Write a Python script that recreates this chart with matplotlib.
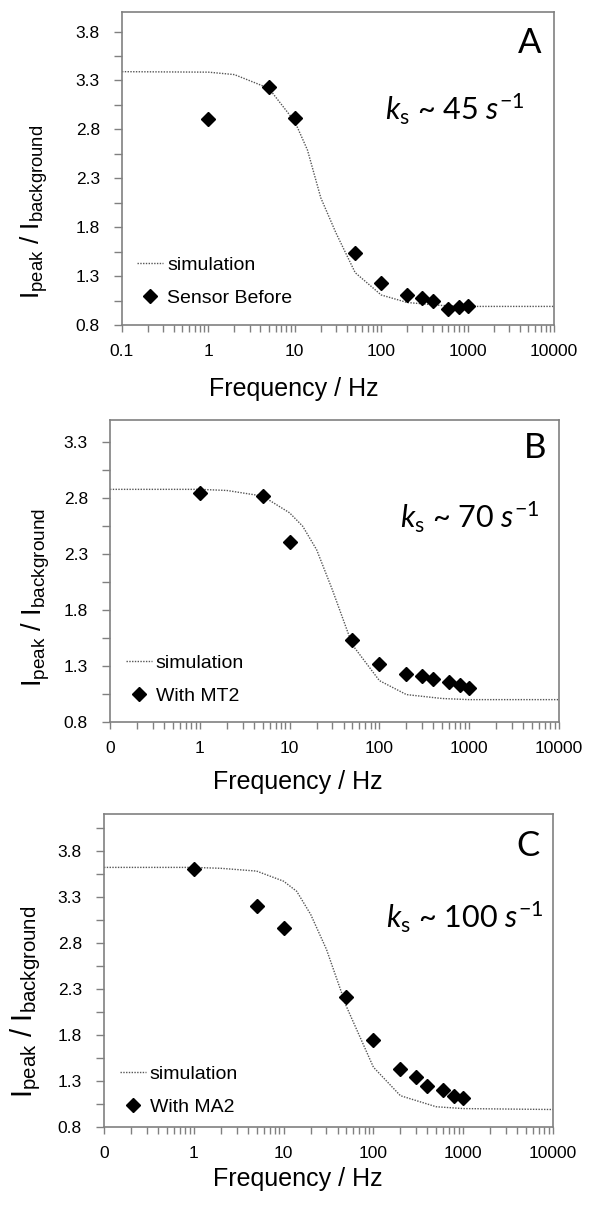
import matplotlib
matplotlib.use("Agg")
import matplotlib.pyplot as plt
from matplotlib.ticker import FixedLocator, LogLocator, NullFormatter
import numpy as np

plt.rcParams['mathtext.fontset'] = 'custom'
plt.rcParams['mathtext.rm'] = 'Lato'
plt.rcParams['mathtext.it'] = 'Lato:italic'
plt.rcParams['mathtext.sf'] = 'Liberation Sans'

# ---------------- data ----------------
freq_data = [1, 5, 10, 50, 100, 200, 300, 400, 600, 800, 1000]

ratio_A = [2.91, 3.23, 2.92, 1.54, 1.23, 1.11, 1.08, 1.05, 0.96, 0.98, 0.99]
ratio_B = [2.85, 2.82, 2.41, 1.53, 1.32, 1.23, 1.215, 1.18, 1.16, 1.13, 1.10]
ratio_C = [3.60, 3.20, 2.96, 2.21, 1.75, 1.43, 1.345, 1.25, 1.20, 1.14, 1.11]

freq_sim = [0.1, 1, 2, 5, 10, 14, 20, 30, 50, 100, 200, 500, 1000, 10000]
sim_A = [3.39, 3.385, 3.36, 3.22, 2.88, 2.59, 2.10, 1.74, 1.335, 1.107, 1.03, 1.0, 0.99, 0.99]
sim_B = [2.88, 2.88, 2.87, 2.82, 2.67, 2.55, 2.34, 1.98, 1.49, 1.17, 1.045, 1.01, 1.0, 1.0]
sim_C = [3.62, 3.62, 3.61, 3.58, 3.47, 3.36, 3.11, 2.73, 2.11, 1.45, 1.14, 1.02, 1.0, 0.99]

xtick_vals = [0.1, 1, 10, 100, 1000, 10000]
xtick_labels_A = ['0.1', '1', '10', '100', '1000', '10000']
xtick_labels_BC = ['0', '1', '10', '100', '1000', '10000']
ytick_vals = [0.8, 1.3, 1.8, 2.3, 2.8, 3.3, 3.8]

panels = [
    dict(rect=[122/589, 1-325/1206, 432/589, 313/1206], ylim=(0.8, 4.0),
         data=ratio_A, sim=sim_A, xlabels=xtick_labels_A, label='Sensor Before',
         letter='A', letter_pos=(0.944, 0.90), ks='45', ks_pos=(0.933, 0.655),
         leg_anchor=(0.035, 0.058), yt=ytick_vals,
         ylab_pos=(-0.167, 0.361), ylab_size=19, xlab_pos=(0.398, -0.166)),
    dict(rect=[110/589, 1-722/1206, 449/589, 302/1206], ylim=(0.8, 3.5),
         data=ratio_B, sim=sim_B, xlabels=xtick_labels_BC, label='With MT2',
         letter='B', letter_pos=(0.947, 0.907), ks='70', ks_pos=(0.958, 0.642),
         leg_anchor=(0.035, 0.056), yt=ytick_vals[:-1],
         ylab_pos=(-0.129, 0.414), ylab_size=19.5, xlab_pos=(0.419, -0.159)),
    dict(rect=[104/589, 1-1127/1206, 449/589, 313/1206], ylim=(0.8, 4.2),
         data=ratio_C, sim=sim_C, xlabels=xtick_labels_BC, label='With MA2',
         letter='C', letter_pos=(0.944, 0.898), ks='100', ks_pos=(0.978, 0.636),
         leg_anchor=(0.035, 0.036), yt=ytick_vals,
         ylab_pos=(-0.136, 0.40), ylab_size=21, xlab_pos=(0.431, -0.128)),
]

fig = plt.figure(figsize=(5.89, 12.06), dpi=100)
spine_col = '#808080'

for p in panels:
    ax = fig.add_axes(p['rect'])
    ax.set_xscale('log')
    ax.plot(freq_sim, p['sim'], linestyle=(0, (1, 1)), color='#555555', lw=1.0,
            label='simulation')
    ax.plot(freq_data, p['data'], linestyle='none', marker='D', markersize=7.5,
            color='black', label=p['label'])
    ax.set_xlim(0.1, 10000)
    ax.set_ylim(*p['ylim'])
    ax.xaxis.set_major_locator(FixedLocator(xtick_vals))
    ax.set_xticklabels(p['xlabels'])
    ax.xaxis.set_minor_locator(LogLocator(base=10, subs=np.arange(2, 10), numticks=20))
    ax.xaxis.set_minor_formatter(NullFormatter())
    yt = p['yt']
    ax.yaxis.set_major_locator(FixedLocator(yt))
    ax.set_yticklabels([f'{v:.1f}' for v in yt])
    ax.yaxis.set_minor_locator(FixedLocator([v + 0.25 for v in ytick_vals]))
    for s in ax.spines.values():
        s.set_color(spine_col)
        s.set_linewidth(1.2)
    ax.tick_params(axis='both', which='both', direction='out', color=spine_col, width=1.0)
    ax.tick_params(axis='x', which='major', length=5, pad=9)
    ax.tick_params(axis='x', which='minor', length=5)
    ax.tick_params(axis='y', which='major', length=6, pad=10)
    ax.tick_params(axis='y', which='minor', length=6)
    for lab in ax.get_xticklabels() + ax.get_yticklabels():
        lab.set_fontfamily('Liberation Sans')
        lab.set_fontsize(12.5)
    ax.set_xlabel('Frequency / Hz', fontfamily='Liberation Sans', fontsize=18)
    ax.xaxis.set_label_coords(*p['xlab_pos'])
    ax.set_ylabel(r'$\mathsf{I_{peak}\ /\ I_{background}}$', fontsize=p['ylab_size'])
    ax.yaxis.set_label_coords(*p['ylab_pos'])
    ax.legend(loc='lower left', bbox_to_anchor=p['leg_anchor'], frameon=False,
              prop={'family': 'Liberation Sans', 'size': 14},
              handlelength=1.35, handletextpad=0.2, labelspacing=0.8,
              borderpad=0, borderaxespad=0)
    ax.text(p['letter_pos'][0], p['letter_pos'][1], p['letter'], transform=ax.transAxes,
            ha='center', va='center', fontfamily='Lato', fontsize=25)
    ax.text(p['ks_pos'][0], p['ks_pos'][1],
            r'$\mathit{k}_{\mathrm{s}}$ ~ ' + p['ks'] + r' $\mathit{s}^{\mathrm{-1}}$',
            transform=ax.transAxes, ha='right', va='baseline', fontfamily='Lato', fontsize=22)

fig.savefig('out.png', dpi=100)
